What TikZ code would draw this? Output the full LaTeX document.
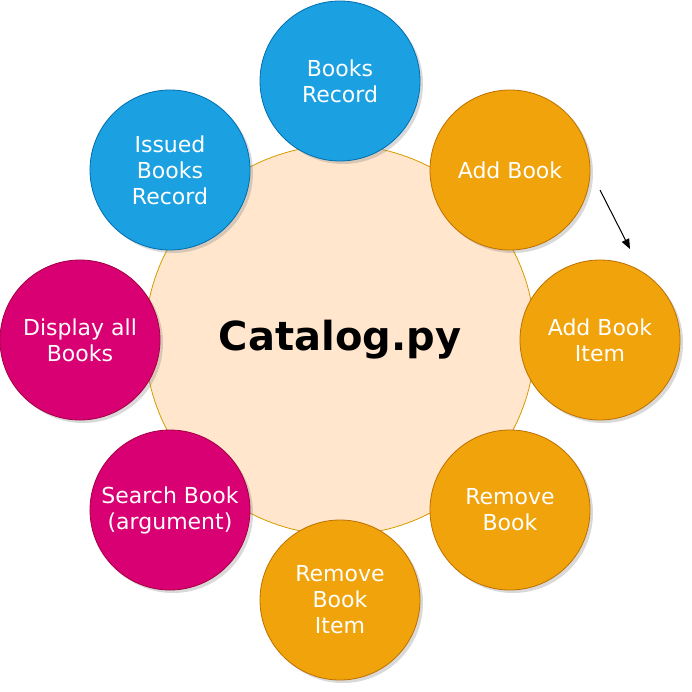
\documentclass[tikz,border=0pt]{standalone}
\usepackage{fontspec}
\setmainfont{DejaVu Sans}
\usetikzlibrary{shadows,arrows.meta}
\definecolor{cblue}{HTML}{1BA1E2}
\definecolor{cbluedk}{HTML}{006EAF}
\definecolor{corange}{HTML}{F0A30A}
\definecolor{corangedk}{HTML}{BD7000}
\definecolor{cpink}{HTML}{D80073}
\definecolor{cpinkdk}{HTML}{A50040}
\definecolor{ccenter}{HTML}{FFE6CC}
\definecolor{ccenterdk}{HTML}{D79B00}
\tikzset{
  bubble/.style={circle, minimum size=160pt, inner sep=0pt, text=white, align=center,
    font=\fontsize{22}{26}\selectfont, line width=0.8pt,
    drop shadow={shadow xshift=3pt, shadow yshift=-3pt, opacity=0.3, fill=gray}},
  bluebub/.style={bubble, fill=cblue, draw=cbluedk},
  orangebub/.style={bubble, fill=corange, draw=corangedk},
  pinkbub/.style={bubble, fill=cpink, draw=cpinkdk},
  hub/.style={circle, minimum size=390pt, inner sep=0pt, fill=ccenter, draw=ccenterdk, line width=0.8pt,
    font=\bfseries\fontsize{40}{48}\selectfont, text=black},
  flow/.style={-{Triangle[length=10pt,width=8pt]}, line width=1pt, black}
}
\begin{document}
\begin{tikzpicture}[x=1pt,y=-1pt]
\useasboundingbox (0,0) rectangle (692,692);
\node[hub] (hub) at (340,340) {Catalog.py};
\node[bluebub] (books) at (340,81) {Books\\Record};
\node[orangebub] (add) at (510,170) {Add Book};
\node[orangebub] (additem) at (600,340) {Add Book\\Item};
\node[orangebub] (remove) at (510,510) {Remove\\Book};
\node[orangebub] (removeitem) at (340,600) {Remove\\Book\\Item};
\node[pinkbub] (search) at (170,510) {Search Book\\(argument)};
\node[pinkbub] (display) at (80,340) {Display all\\Books};
\node[bluebub] (issued) at (170,170) {Issued\\Books\\Record};
\coordinate (a1) at (600,190);
\coordinate (a2) at (630,249);
\draw[flow] (a1) -- (a2);
\end{tikzpicture}
\end{document}
